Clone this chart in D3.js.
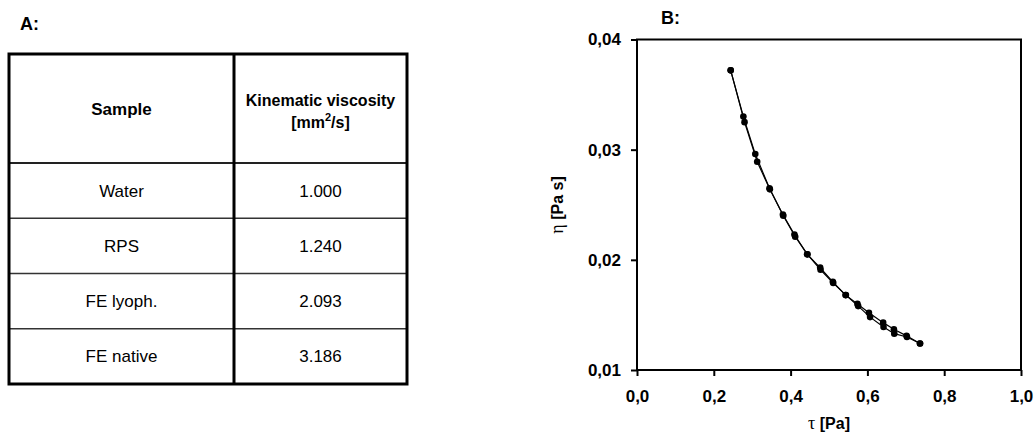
<!DOCTYPE html>
<meta charset="utf-8">
<title>Viscosity</title>
<style>
body { margin: 0; background: #fff; }
text { font-family: Arial, "Liberation Sans", sans-serif; fill: #000; }
.bold { font-weight: bold; }
</style>
<body>
<script src="https://cdn.jsdelivr.net/npm/d3@7"></script>
<script>
var W = 1036, H = 434;

// table data
var samples = ["Water", "RPS", "FE lyoph.", "FE native"];
var viscosity = ["1.000", "1.240", "2.093", "3.186"];

// flow curve, two sweeps
var tauUp = [0.244, 0.277, 0.308, 0.345, 0.380, 0.410, 0.443, 0.477, 0.510, 0.543, 0.574, 0.604, 0.641, 0.669, 0.702, 0.737];
var etaUp = [0.0372, 0.0330, 0.0296, 0.0265, 0.0241, 0.0223, 0.0205, 0.0193, 0.0180, 0.0168, 0.0160, 0.0152, 0.0143, 0.0137, 0.0131, 0.0124];
var tauDown = [0.244, 0.280, 0.313, 0.346, 0.381, 0.412, 0.444, 0.478, 0.511, 0.544, 0.576, 0.607, 0.642, 0.670, 0.703, 0.737];
var etaDown = [0.0372, 0.0325, 0.0289, 0.0264, 0.0240, 0.0221, 0.0205, 0.0191, 0.0179, 0.0168, 0.0158, 0.0148, 0.0139, 0.0133, 0.0130, 0.0124];

var xTicks = [0, 0.2, 0.4, 0.6, 0.8, 1.0];
var yTicks = [0.01, 0.02, 0.03, 0.04];

var svg = d3.select("body").append("svg")
    .attr("width", W)
    .attr("height", H);

// ---- panel A: table ----
svg.append("text").attr("class", "bold")
    .attr("x", 20).attr("y", 30)
    .style("font-size", "18px")
    .text("A:");

var tL = 9, tR = 407, tDiv = 234, tTop = 54, headB = 163, tBot = 384;
var rowY = d3.scaleBand()
    .domain(d3.range(samples.length))
    .range([headB, tBot]);

var tbl = svg.append("g");

// inner row lines
tbl.selectAll("line.row")
    .data(d3.range(1, samples.length))
  .enter().append("line")
    .attr("x1", tL).attr("x2", tR)
    .attr("y1", function(d) { return rowY(d); })
    .attr("y2", function(d) { return rowY(d); })
    .attr("stroke", "#333").attr("stroke-width", 1.5);

tbl.append("line")
    .attr("x1", tL).attr("x2", tR)
    .attr("y1", headB).attr("y2", headB)
    .attr("stroke", "#222").attr("stroke-width", 2);

tbl.append("line")
    .attr("x1", tDiv).attr("x2", tDiv)
    .attr("y1", tTop).attr("y2", tBot)
    .attr("stroke", "#000").attr("stroke-width", 3);

tbl.append("rect")
    .attr("x", tL).attr("y", tTop)
    .attr("width", tR - tL).attr("height", tBot - tTop)
    .attr("fill", "none").attr("stroke", "#000").attr("stroke-width", 3);

var c1 = (tL + tDiv) / 2, c2 = (tDiv + tR) / 2;

tbl.append("text").attr("class", "bold")
    .attr("x", c1).attr("y", 115)
    .attr("text-anchor", "middle")
    .style("font-size", "17px")
    .text("Sample");

tbl.append("text").attr("class", "bold")
    .attr("x", c2).attr("y", 106)
    .attr("text-anchor", "middle")
    .style("font-size", "16px")
    .text("Kinematic viscosity");

var unit = tbl.append("text").attr("class", "bold")
    .attr("x", c2).attr("y", 128)
    .attr("text-anchor", "middle")
    .style("font-size", "16px");
unit.append("tspan").text("[mm");
unit.append("tspan").attr("dy", -7).style("font-size", "11px").text("2");
unit.append("tspan").attr("dy", 7).text("/s]");

tbl.selectAll("text.sample")
    .data(samples)
  .enter().append("text")
    .attr("class", "sample")
    .attr("x", c1)
    .attr("y", function(d, i) { return rowY(i) + rowY.bandwidth() / 2 + 6; })
    .attr("text-anchor", "middle")
    .style("font-size", "17px")
    .text(function(d) { return d; });

tbl.selectAll("text.val")
    .data(viscosity)
  .enter().append("text")
    .attr("class", "val")
    .attr("x", c2)
    .attr("y", function(d, i) { return rowY(i) + rowY.bandwidth() / 2 + 6; })
    .attr("text-anchor", "middle")
    .style("font-size", "17px")
    .text(function(d) { return d; });

// ---- panel B: flow curve ----
svg.append("text").attr("class", "bold")
    .attr("x", 661).attr("y", 24)
    .style("font-size", "18px")
    .text("B:");

var x = d3.scaleLinear().domain([0, 1]).range([637, 1021]);
var y = d3.scaleLinear().domain([0.01, 0.04]).range([370, 39.5]);

var fmt = function(d) { return d3.format(".1f")(d).replace(".", ","); };
var fmtY = function(d) { return d3.format(".2f")(d).replace(".", ","); };

var xAxis = svg.append("g")
    .attr("transform", "translate(0," + y(0.01) + ")")
    .call(d3.axisBottom(x).tickValues(xTicks).tickSize(6).tickSizeOuter(0).tickPadding(14).tickFormat(fmt));

var yAxis = svg.append("g")
    .attr("transform", "translate(" + x(0) + ",0)")
    .call(d3.axisLeft(y).tickValues(yTicks).tickSize(6).tickSizeOuter(0).tickPadding(10).tickFormat(fmtY));

[xAxis, yAxis].forEach(function(a) {
  a.select(".domain").remove();
  a.selectAll(".tick line").attr("stroke", "#000").attr("stroke-width", 2);
  a.selectAll(".tick text")
      .attr("class", "bold")
      .style("font-family", "Arial, 'Liberation Sans', sans-serif")
      .style("font-size", "17px")
      .attr("fill", "#000");
});

// frame
svg.append("rect")
    .attr("x", x(0)).attr("y", y(0.04))
    .attr("width", x(1) - x(0)).attr("height", y(0.01) - y(0.04))
    .attr("fill", "none").attr("stroke", "#000").attr("stroke-width", 2);

var line = d3.line()
    .x(function(d) { return x(d[0]); })
    .y(function(d) { return y(d[1]); });

var series = [d3.zip(tauUp, etaUp), d3.zip(tauDown, etaDown)];

svg.selectAll("path.curve")
    .data(series)
  .enter().append("path")
    .attr("class", "curve")
    .attr("d", line)
    .attr("fill", "none")
    .attr("stroke", "#000")
    .attr("stroke-width", 1.2);

svg.selectAll("g.pts")
    .data(series)
  .enter().append("g")
    .attr("class", "pts")
  .selectAll("circle")
    .data(function(d) { return d; })
  .enter().append("circle")
    .attr("cx", function(d) { return x(d[0]); })
    .attr("cy", function(d) { return y(d[1]); })
    .attr("r", 3.3)
    .attr("fill", "#000");

// axis titles
var xt = svg.append("text").attr("class", "bold")
    .attr("x", 829).attr("y", 429)
    .attr("text-anchor", "middle")
    .style("font-size", "16px");
xt.append("tspan").style("font-family", "'Liberation Serif', serif").style("font-weight", "normal").style("font-size", "18px").text("τ");
xt.append("tspan").text(" [Pa]");

var yt = svg.append("text").attr("class", "bold")
    .attr("transform", "translate(563,205) rotate(-90)")
    .attr("text-anchor", "middle")
    .style("font-size", "16px");
yt.append("tspan").style("font-family", "'Liberation Serif', serif").style("font-weight", "normal").style("font-size", "18px").text("η");
yt.append("tspan").text(" [Pa s]");
</script>
